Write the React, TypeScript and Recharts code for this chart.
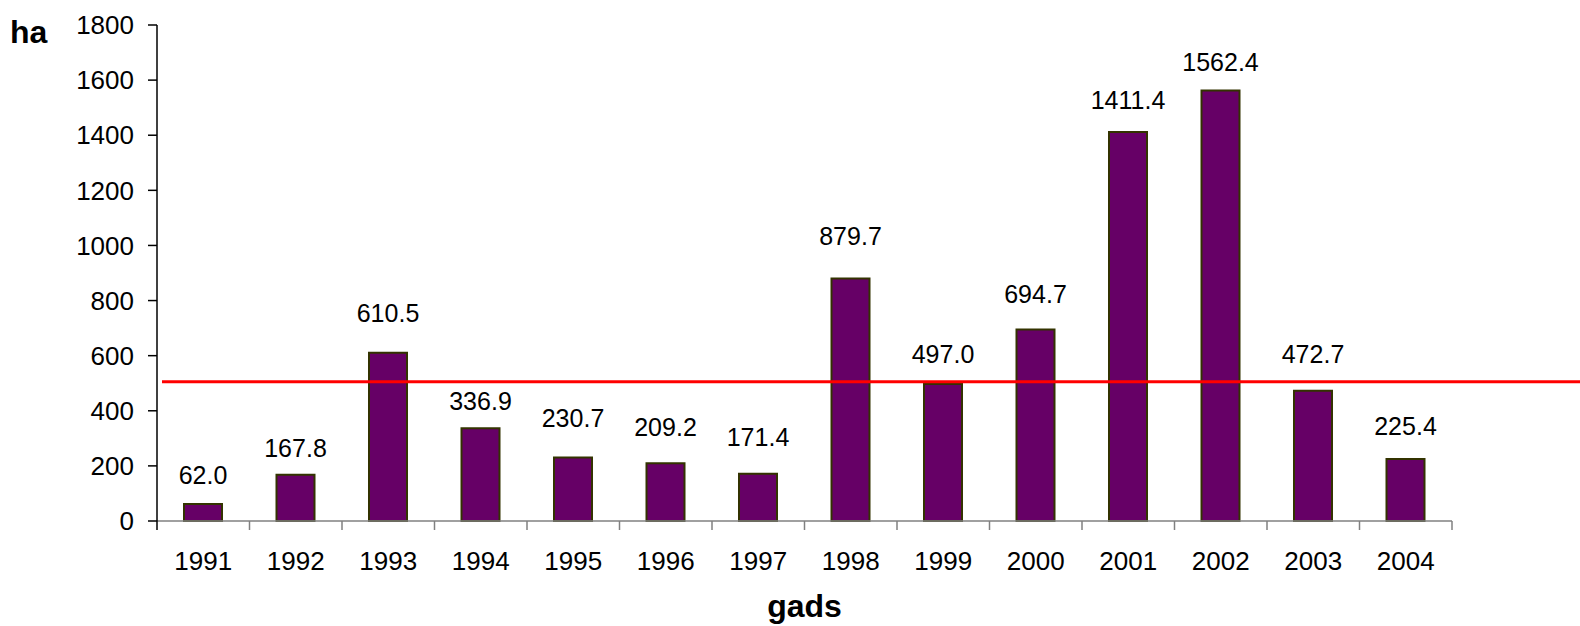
import React from 'react';
import { BarChart, Bar, XAxis, YAxis, ReferenceLine, LabelList, Label } from 'recharts';

const years = ['1991', '1992', '1993', '1994', '1995', '1996', '1997', '1998', '1999', '2000', '2001', '2002', '2003', '2004'];
const area = [62.0, 167.8, 610.5, 336.9, 230.7, 209.2, 171.4, 879.7, 497.0, 694.7, 1411.4, 1562.4, 472.7, 225.4];
const yTicks = [0, 200, 400, 600, 800, 1000, 1200, 1400, 1600, 1800];
const averageLevel = 505;

// how far each value label sits above its bar, px
const labelLift = [20, 18, 31, 18, 30, 27, 28, 34, 21, 27, 23, 19, 28, 24];

const data = years.map((year, i) => ({ year, area: area[i] }));

const W = 1580;
const H = 626;
const FONT = '"Liberation Sans", Arial, sans-serif';
const X_TICK_SIZE = 9;
const X_TICK_MARGIN = 22;

// category label plus tick marks on the band edges, Excel style
function YearTick(props: any) {
  const { x, y, payload, index, visibleTicksCount } = props;
  const half = payload.offset ?? 0;
  const axisY = y - X_TICK_SIZE - X_TICK_MARGIN;
  const last = index === visibleTicksCount - 1;
  return (
    <g>
      <line
        x1={x - half} x2={x - half} y1={axisY} y2={axisY + X_TICK_SIZE}
        stroke={index === 0 ? '#000' : '#808080'} strokeWidth={1.5}
      />
      {last && (
        <line x1={x + half} x2={x + half} y1={axisY} y2={axisY + X_TICK_SIZE} stroke="#808080" strokeWidth={1.5} />
      )}
      <text x={x} y={y} dy="0.71em" textAnchor="middle" fontSize={26} fontFamily={FONT} fill="#000">
        {payload.value}
      </text>
    </g>
  );
}

// red level line runs past the plot area to the right edge
function LevelLine(props: any) {
  const { x1, y1 } = props;
  return <line x1={x1 + 5} x2={W} y1={y1} y2={y1} stroke="#ff0000" strokeWidth={3} />;
}

function ValueLabel(props: any) {
  const { x, y, width, value, index } = props;
  return (
    <text
      x={x + width / 2} y={y - (labelLift[index] ?? 20)}
      textAnchor="middle" fontSize={25} fontFamily={FONT} fill="#000"
    >
      {Number(value).toFixed(1)}
    </text>
  );
}

export default function App() {
  return (
    <div style={{ width: W, height: H, background: '#fff' }}>
      <style>{'body{margin:0}'}</style>
      <BarChart width={W} height={H} data={data} margin={{ top: 25, right: 128, left: 0, bottom: 0 }}>
        <XAxis
          dataKey="year"
          height={105}
          tickLine={false}
          tickSize={X_TICK_SIZE}
          tickMargin={X_TICK_MARGIN}
          axisLine={{ stroke: '#808080', strokeWidth: 1.5 }}
          tick={<YearTick />}
          interval={0}
        >
          <Label
            value="gads"
            position="insideBottom"
            offset={9}
            style={{ fontSize: 32, fontWeight: 'bold', fontFamily: FONT, fill: '#000' }}
          />
        </XAxis>
        <YAxis
          width={157}
          domain={[0, 1800]}
          ticks={yTicks}
          interval={0}
          tickSize={9}
          tickMargin={14}
          axisLine={{ stroke: '#000', strokeWidth: 1.5 }}
          tickLine={{ stroke: '#000', strokeWidth: 1.5 }}
          tick={{ fontSize: 26, fontFamily: FONT, fill: '#000' }}
        >
          <Label
            content={({ viewBox }: any) => (
              <text x={viewBox.x + 10} y={viewBox.y + 18} fontSize={32} fontWeight="bold" fontFamily={FONT} fill="#000">
                ha
              </text>
            )}
          />
        </YAxis>
        <Bar dataKey="area" fill="#660066" stroke="#333300" strokeWidth={2} barSize={38} isAnimationActive={false}>
          <LabelList dataKey="area" content={<ValueLabel />} />
        </Bar>
        <ReferenceLine y={averageLevel} shape={<LevelLine />} />
      </BarChart>
    </div>
  );
}
